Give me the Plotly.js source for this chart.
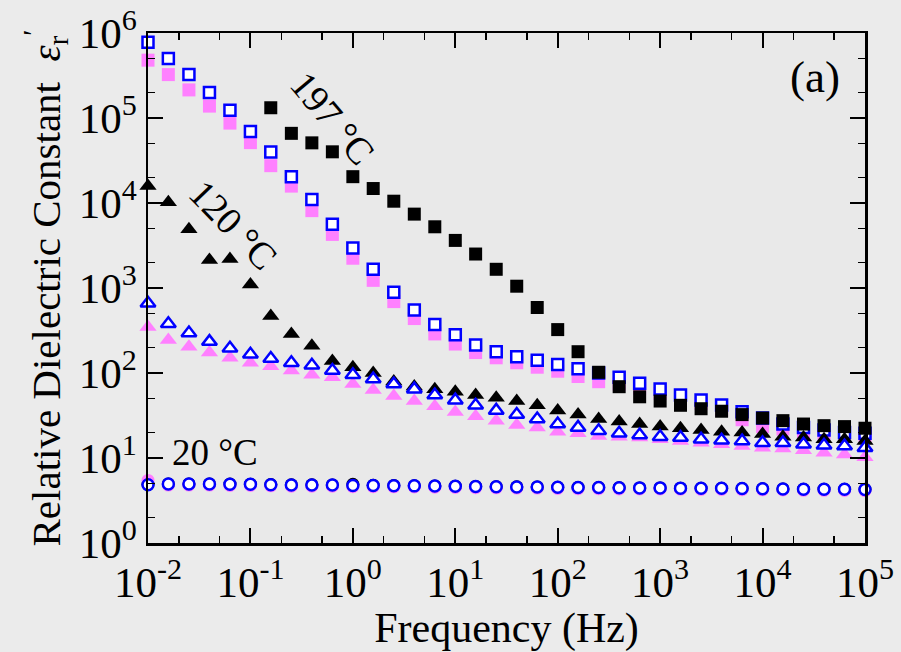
<!DOCTYPE html>
<html><head><meta charset="utf-8">
<script src="https://cdn.plot.ly/plotly-3.0.1.min.js"></script>
<style>html,body{margin:0;padding:0;background:#ebebeb;}</style>
</head><body><div id="chart" style="width:901px;height:652px;"></div>
<script>
// Frequency (Hz), 5 points per decade
const frequency = [0.01, 0.0158, 0.0251, 0.0398, 0.0631, 0.1, 0.158, 0.251, 0.398, 0.631,
  1, 1.58, 2.51, 3.98, 6.31, 10, 15.8, 25.1, 39.8, 63.1,
  100, 158, 251, 398, 631, 1000, 1580, 2510, 3980, 6310,
  10000, 15800, 25100, 39800, 63100, 100000];
// 197 °C black squares start at 0.158 Hz
const frequencyBlack197 = [0.158, 0.251, 0.398, 0.631,
  1, 1.58, 2.51, 3.98, 6.31, 10, 15.8, 25.1, 39.8, 63.1,
  100, 158, 251, 398, 631, 1000, 1580, 2510, 3980, 6310,
  10000, 15800, 25100, 39800, 63100, 100000];

const sq197Black = [132000, 66000, 51000, 40000, 20400, 14800, 10500, 7400, 5250, 3630,
  2510, 1660, 1050, 590, 324, 178, 102, 69, 52.5, 46.8,
  41.7, 38, 35.5, 32.4, 29.5, 27.5, 25.1, 24, 23.4, 22.4];
const sqBlueOpen = [776000, 501000, 324000, 200000, 123000, 69200, 39800, 20400, 11000, 5620,
  2950, 1660, 891, 550, 372, 282, 214, 178, 155, 141,
  126, 112, 100, 89, 76, 65, 55, 48, 42, 35,
  29.5, 25.1, 22.9, 21.4, 20, 19.5];
const sqPink = [479000, 324000, 214000, 138000, 87100, 51300, 27500, 15800, 8130, 4270,
  2240, 1230, 692, 437, 288, 219, 174, 151, 132, 117,
  105, 91, 79, 74, 66, 57.5, 50, 43.7, 36.3, 28.2,
  23.4, 21.9, 20.4, 19.1, 18.6, 18.2];

const tri120Black = [15800, 10200, 4900, 2140, 2190, 1100, 468, 288, 209, 138,
  117, 100, 79.4, 69.2, 64.6, 60.3, 55, 51.3, 46.8, 41.7,
  36.3, 32.4, 28.8, 26.9, 25.1, 23.4, 22.4, 21.4, 20.4, 20,
  19.1, 17.8, 17.4, 16.6, 16.6, 15.8];
const triBlueOpen = [661, 380, 295, 234, 195, 166, 148, 132, 123, 107,
  95.5, 85.1, 74.1, 64.6, 55, 47.9, 41.7, 36.3, 32.4, 28.8,
  25.1, 22.9, 20.9, 19.5, 18.6, 17.8, 17.4, 16.6, 16.2, 15.8,
  15.1, 15.1, 14.5, 14.1, 13.8, 13.2];
const triPink = [347, 245, 204, 174, 151, 132, 120, 107, 95.5, 89.1,
  74.1, 63.1, 53.7, 46.8, 40.7, 34.7, 30.9, 27.5, 24.5, 22.9,
  20.4, 19.5, 18.2, 17.8, 17.4, 16.6, 15.8, 15.1, 14.5, 13.8,
  13.2, 12.9, 12.3, 11.5, 11, 10.2];

const circBlack = [4.9, 4.96, 4.96, 4.96, 4.93, 4.92, 4.88, 4.84, 4.83, 4.82,
  4.9, 4.77, 4.74, 4.71, 4.69, 4.66, 4.63, 4.6, 4.58, 4.57,
  4.53, 4.51, 4.5, 4.47, 4.45, 4.45, 4.42, 4.4, 4.4, 4.37,
  4.35, 4.33, 4.3, 4.3, 4.28, 4.27];
const circBlueOpen = [4.85, 4.94, 4.94, 4.94, 4.9, 4.9, 4.85, 4.8, 4.8, 4.8,
  4.75, 4.75, 4.73, 4.7, 4.68, 4.65, 4.62, 4.6, 4.57, 4.57,
  4.52, 4.5, 4.5, 4.47, 4.45, 4.45, 4.42, 4.4, 4.4, 4.37,
  4.35, 4.33, 4.3, 4.3, 4.28, 4.27];
const circPink = [5.45, 4.8, 4.8, 4.8, 4.76, 4.75, 4.7, 4.66, 4.66, 4.65,
  4.6, 4.6, 4.58, 4.56, 4.54, 4.51, 4.48, 4.46, 4.43, 4.43,
  4.38, 4.36, 4.36, 4.33, 4.32, 4.32, 4.29, 4.27, 4.27, 4.24,
  4.22, 4.2, 4.17, 4.17, 4.15, 4.14];

const xTickVals = [0.01, 0.1, 1, 10, 100, 1000, 10000, 100000];
const xTickText = ['10<sup>-2</sup>', '10<sup>-1</sup>', '10<sup>0</sup>', '10<sup>1</sup>',
  '10<sup>2</sup>', '10<sup>3</sup>', '10<sup>4</sup>', '10<sup>5</sup>'];
const yTickVals = [1, 10, 100, 1000, 10000, 100000, 1000000];
const yTickText = ['10<sup>0</sup>', '10<sup>1</sup>', '10<sup>2</sup>', '10<sup>3</sup>',
  '10<sup>4</sup>', '10<sup>5</sup>', '10<sup>6</sup>'];

const PINK = '#ff80ff', BLUE = '#0000ff', BLACK = '#000000';
function filled(x, y, sym, color, size) {
  return {x: x, y: y, type: 'scatter', mode: 'markers', cliponaxis: false, showlegend: false,
    marker: {symbol: sym, color: color, size: size, line: {width: 0}}};
}
function open(x, y, sym, size) {
  return {x: x, y: y, type: 'scatter', mode: 'markers', cliponaxis: false, showlegend: false,
    marker: {symbol: sym, color: '#ffffff', size: size, line: {width: 2.5, color: BLUE}}};
}
const traces = [
  filled(frequency, sqPink, 'square', PINK, 13),
  open(frequency, sqBlueOpen, 'square', 11),
  filled(frequencyBlack197, sq197Black, 'square', BLACK, 13),
  filled(frequency, triPink, 'triangle-up', PINK, 15),
  filled(frequency, tri120Black, 'triangle-up', BLACK, 15),
  open(frequency, triBlueOpen, 'triangle-up', 13),
  filled(frequency, circBlack, 'circle', BLACK, 13),
  filled(frequency, circPink, 'circle', PINK, 13),
  open(frequency, circBlueOpen, 'circle', 11)
];

const FONT = '"Liberation Serif", "Times New Roman", serif';
const axisCommon = {
  type: 'log', showgrid: false, zeroline: false, showline: true, linecolor: '#000', linewidth: 2.5,
  mirror: 'ticks', ticks: 'inside', ticklen: 15, tickwidth: 2, tickcolor: '#000',
  minor: {ticks: 'inside', ticklen: 7, tickwidth: 1.5, tickcolor: '#000', showgrid: false},
  tickfont: {family: FONT, size: 43, color: '#000'}
};
const layout = {
  width: 901, height: 652,
  margin: {l: 148, r: 36, t: 33, b: 109},
  paper_bgcolor: '#ebebeb', plot_bgcolor: '#e9e9e9',
  font: {family: FONT, color: '#000'},
  xaxis: Object.assign({}, axisCommon, {
    range: [-2, 5], tickvals: xTickVals, ticktext: xTickText,
    title: {text: 'Frequency (Hz)', font: {family: FONT, size: 42}, standoff: 0}
  }),
  yaxis: Object.assign({}, axisCommon, {
    range: [0, 6], tickvals: yTickVals, ticktext: yTickText,
    title: {text: 'Relative Dielectric Constant  <i>ε</i><sub>r</sub><sup>′</sup>', font: {family: FONT, size: 41}, standoff: 6}
  }),
  annotations: [
    {xref: 'paper', yref: 'paper', x: 0.257, y: 0.833, xanchor: 'center', yanchor: 'middle',
     text: '197 °C', showarrow: false, textangle: 50,
     font: {family: FONT, size: 38, color: '#000'}},
    {xref: 'paper', yref: 'paper', x: 0.119, y: 0.624, xanchor: 'center', yanchor: 'middle',
     text: '120 °C', showarrow: false, textangle: 46,
     font: {family: FONT, size: 38, color: '#000'}},
    {xref: 'paper', yref: 'paper', x: 0.093, y: 0.178, xanchor: 'center', yanchor: 'middle',
     text: '20 °C', showarrow: false,
     font: {family: FONT, size: 37, color: '#000'}},
    {xref: 'paper', yref: 'paper', x: 0.930, y: 0.914, xanchor: 'center', yanchor: 'middle',
     text: '(a)', showarrow: false,
     font: {family: FONT, size: 45, color: '#000'}}
  ]
};
Plotly.newPlot('chart', traces, layout, {displayModeBar: false, staticPlot: true});
</script></body></html>
